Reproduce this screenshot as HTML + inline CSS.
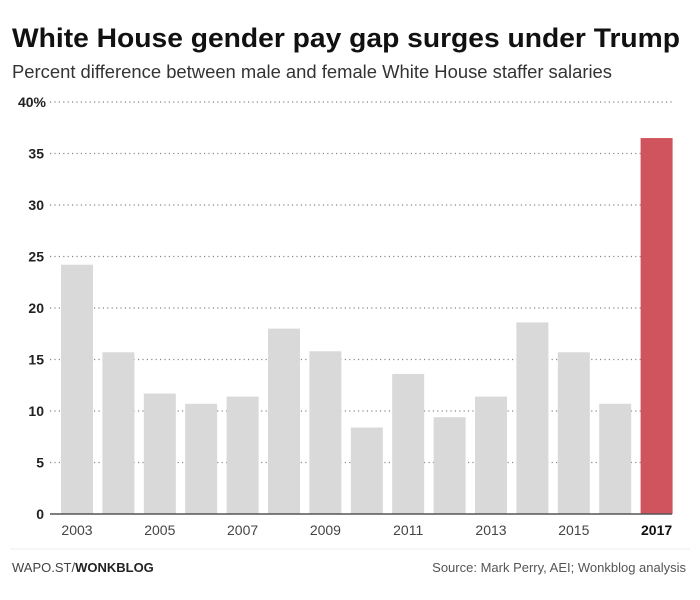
<!DOCTYPE html>
<html><head><meta charset="utf-8"><style>
body{margin:0;background:#fff;width:700px;height:595px;overflow:hidden;font-family:"Liberation Sans",sans-serif}
</style></head><body>
<svg width="700" height="595">
<text x="12" y="47" font-size="27" font-weight="bold" fill="#111" textLength="668" lengthAdjust="spacingAndGlyphs">White House gender pay gap surges under Trump</text>
<text x="12" y="78" font-size="18" fill="#333" textLength="600" lengthAdjust="spacingAndGlyphs">Percent difference between male and female White House staffer salaries</text>
<g id="grid"></g><g id="bars"></g><g id="xlabels"></g>
<line x1="50" x2="672" y1="514" y2="514" stroke="#555" stroke-width="1.5"/>
<line x1="10" x2="690" y1="549" y2="549" stroke="#eee" stroke-width="1"/>
<text x="12" y="572" font-size="13" fill="#444">WAPO.ST/<tspan font-weight="bold" fill="#222">WONKBLOG</tspan></text>
<text x="686" y="572" font-size="13" fill="#555" text-anchor="end">Source: Mark Perry, AEI; Wonkblog analysis</text>
</svg>
<script>
const years=[2003,2004,2005,2006,2007,2008,2009,2010,2011,2012,2013,2014,2015,2016,2017];
const values=[24.2,15.7,11.7,10.7,11.4,18.0,15.8,8.4,13.6,9.4,11.4,18.6,15.7,10.7,36.5];
const yTicks=[0,5,10,15,20,25,30,35,40];
const xLabelYears=[2003,2005,2007,2009,2011,2013,2015,2017];
const NS="http://www.w3.org/2000/svg";
const y=v=>514-v*10.3;
const x=i=>61+i*41.4;
const bw=32;
const grid=document.getElementById('grid'),bars=document.getElementById('bars'),xl=document.getElementById('xlabels');
yTicks.forEach(t=>{
  if(t>0){const l=document.createElementNS(NS,'line');
  l.setAttribute('x1',50);l.setAttribute('x2',672);l.setAttribute('y1',y(t));l.setAttribute('y2',y(t));
  l.setAttribute('stroke','#888');l.setAttribute('stroke-dasharray','1.2 3.2');l.setAttribute('stroke-width','1.3');
  
  
  grid.appendChild(l);}
  const tx=document.createElementNS(NS,'text');
  tx.setAttribute('x',t==40?46:44);tx.setAttribute('y',y(t)+5);tx.setAttribute('text-anchor','end');
  tx.setAttribute('font-size','14');tx.setAttribute('font-weight','bold');tx.setAttribute('fill','#222');
  tx.textContent=t==40?'40%':t;
  
  
  grid.appendChild(tx);
});
values.forEach((v,i)=>{
  const r=document.createElementNS(NS,'rect');
  r.setAttribute('x',x(i));r.setAttribute('width',bw);r.setAttribute('y',y(v));r.setAttribute('height',514-y(v));
  r.setAttribute('fill',years[i]==2017?'#d0545d':'#d9d9d9');
  
  
  bars.appendChild(r);
});
xLabelYears.forEach(yr=>{
  const i=years.indexOf(yr);
  const t=document.createElementNS(NS,'text');
  t.setAttribute('x',x(i)+bw/2);t.setAttribute('y',535);t.setAttribute('text-anchor','middle');
  t.setAttribute('font-size','14');t.setAttribute('fill',yr==2017?'#111':'#444');
  if(yr==2017)t.setAttribute('font-weight','bold');
  t.textContent=yr;
  
  
  xl.appendChild(t);
});
</script>
</body></html>
